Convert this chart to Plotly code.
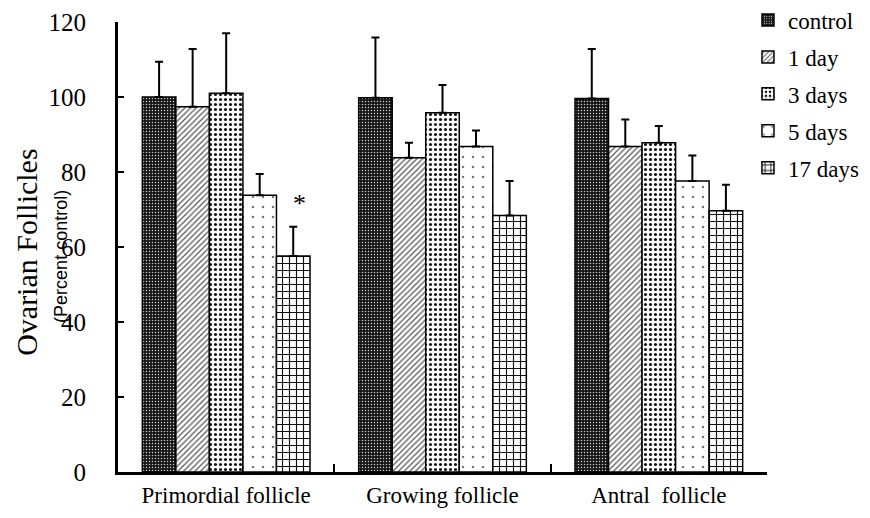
import plotly.graph_objects as go

categories = ["Primordial follicle", "Growing follicle", "Antral  follicle"]
series_names = ["control", "1 day", "3 days", "5 days", "17 days"]
values = {
    "control": [100.0, 99.8, 99.6],
    "1 day":   [97.4, 83.8, 86.8],
    "3 days":  [101.0, 95.8, 87.8],
    "5 days":  [73.8, 86.8, 77.6],
    "17 days": [57.6, 68.4, 69.7],
}
err_top = {
    "control": [109.4, 115.9, 112.8],
    "1 day":   [112.8, 87.8, 94.0],
    "3 days":  [117.0, 103.2, 92.3],
    "5 days":  [79.5, 91.1, 84.4],
    "17 days": [65.4, 77.6, 76.6],
}
y_ticks = [0, 20, 40, 60, 80, 100, 120]

patterns = {
    "control": dict(shape=".", fillmode="replace", bgcolor="#151515", fgcolor="#cccccc", size=3, solidity=0.2),
    "1 day":   dict(shape="/", fillmode="replace", bgcolor="white", fgcolor="#555555", size=4, solidity=0.3),
    "3 days":  dict(shape=".", fillmode="replace", bgcolor="white", fgcolor="#111111", size=5, solidity=0.3),
    "5 days":  dict(shape=".", fillmode="replace", bgcolor="white", fgcolor="#777777", size=10, solidity=0.05),
    "17 days": dict(shape="+", fillmode="replace", bgcolor="white", fgcolor="#111111", size=7, solidity=0.3),
}

FONT = "Liberation Serif"

fig = go.Figure()
for name in series_names:
    v = values[name]
    plus = [e - x for e, x in zip(err_top[name], v)]
    fig.add_trace(go.Bar(
        name=name,
        x=categories,
        y=v,
        legendgroup=name,
        marker=dict(color="white", line=dict(color="black", width=1.5), pattern=patterns[name]),
        error_y=dict(type="data", symmetric=False, array=plus, arrayminus=[0] * len(v),
                     color="black", thickness=2, width=4),
    ))

fig.add_annotation(x=categories[0], y=71.5, text="*", showarrow=False, xshift=73,
                   font=dict(family=FONT, size=26, color="black"))
fig.add_annotation(xref="paper", yref="paper", x=0, xshift=-91, y=0.487, xanchor="center", yanchor="middle",
                   text="Ovarian Follicles", textangle=-90, showarrow=False,
                   font=dict(family=FONT, size=30, color="black"))
fig.add_annotation(xref="paper", yref="paper", x=0, xshift=-57, y=0.478, xanchor="center", yanchor="middle",
                   text="(Percent control)", textangle=-90, showarrow=False,
                   font=dict(family="Liberation Sans", size=18, color="black"))

# page body has an 8px margin, so the figure is 8px smaller and margins shifted
fig.update_layout(
    width=862, height=510,
    margin=dict(l=110, r=103, t=14, b=46, autoexpand=False),
    paper_bgcolor="white", plot_bgcolor="white",
    barmode="group", bargap=0.225, bargroupgap=0,
    font=dict(family=FONT, color="black"),
    showlegend=True,
    legend=dict(x=0.9707, y=1.052, xanchor="left", yanchor="top", font=dict(family=FONT, size=23),
                tracegroupgap=4, bgcolor="rgba(0,0,0,0)", itemwidth=30),
    xaxis=dict(type="category", showline=True, linecolor="black", linewidth=3, ticks="inside",
               tickson="boundaries", ticklen=8, tickwidth=2, tickcolor="black",
               tickfont=dict(family=FONT, size=23), showgrid=False),
    yaxis=dict(range=[0, 120], tickvals=y_ticks, showline=True, linecolor="black", linewidth=3,
               ticks="inside", ticklen=6, tickwidth=2, tickcolor="black", showgrid=False,
               zeroline=False, tickfont=dict(family=FONT, size=25), ticklabelstandoff=24),
)

fig.write_html("out.html")
